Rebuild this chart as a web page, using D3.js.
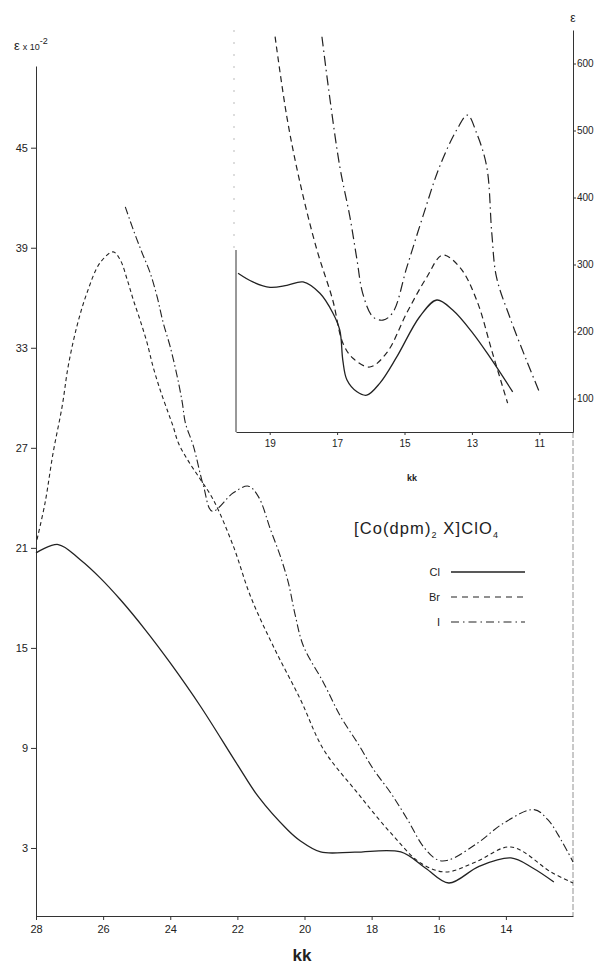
<!DOCTYPE html>
<html>
<head>
<meta charset="utf-8">
<script src="https://cdn.jsdelivr.net/npm/d3@7"></script>
<style>
  body { margin: 0; background: #fff; }
  svg { display: block; font-family: "Liberation Sans", Arial, sans-serif; }
  .axis path, .axis line { stroke: #333; stroke-width: 1; }
  .axis text { fill: #222; font-size: 11px; }
  .inset text { font-size: 10px; }
</style>
</head>
<body>
<svg width="598" height="964"></svg>
<script>
// main chart data (kk, eps x 10^-2)
const clKk  = [28, 27.34, 26.69, 26.09, 25.49, 24.75, 24.0, 23.1, 22.0, 21.37, 20.5, 20.12, 19.52, 18.5, 17.13, 16.4, 15.7, 14.8, 13.85, 13.2, 12.57];
const clEps = [20.7, 21.2, 20.3, 19.2, 17.9, 16.1, 14.1, 11.5, 8.0, 6.06, 4.08, 3.42, 2.76, 2.75, 2.76, 1.8, 0.9, 1.9, 2.4, 1.8, 0.96];

const brKk  = [27.97, 27.73, 27.49, 27.22, 27.04, 26.78, 26.48, 26.09, 25.70, 25.49, 25.28, 25.10, 24.90, 24.69, 24.51, 24.30, 24.06, 23.91, 23.76, 23.49, 23.10, 22.72, 22.12, 21.61, 20.93, 20.12, 19.43, 18.42, 17.43, 16.54, 15.79, 14.9, 13.85, 12.66, 12.0];
const brEps = [21.5, 23.7, 26.7, 29.5, 31.9, 34.3, 36.3, 38.1, 38.75, 38.27, 37.07, 35.87, 34.67, 33.29, 31.85, 30.47, 29.1, 28.26, 27.3, 26.3, 25.1, 23.9, 21.1, 18.1, 15.1, 11.9, 8.9, 6.3, 3.9, 2.1, 1.56, 2.16, 3.06, 1.56, 0.9];

const iKk  = [25.34, 25.10, 24.84, 24.60, 24.39, 24.21, 24.0, 23.79, 23.64, 23.55, 23.31, 23.01, 22.75, 22.12, 21.67, 21.37, 21.01, 20.72, 20.48, 20.27, 20.03, 19.43, 18.93, 18.42, 17.94, 17.43, 16.93, 16.45, 16.03, 15.70, 14.84, 14.06, 13.16, 12.75, 12.36, 12.0];
const iEps = [41.45, 40.07, 38.7, 37.5, 36.05, 34.5, 33.05, 31.25, 29.7, 28.5, 27.1, 24.7, 23.2, 24.3, 24.7, 24.06, 22.08, 20.5, 18.9, 16.9, 15.1, 12.9, 10.9, 9.3, 7.7, 6.3, 4.7, 3.06, 2.28, 2.28, 3.3, 4.5, 5.3, 4.7, 3.5, 2.16];

// inset data (kk, eps)
const clInKk  = [19.94, 19.5, 18.99, 18.49, 18.01, 17.51, 17.13, 16.92, 16.83, 16.71, 16.41, 16.12, 15.73, 15.23, 14.55, 14.04, 13.57, 12.98, 12.47, 11.79];
const clInEps = [287, 274, 266, 269, 274, 257, 228, 202, 157, 128, 110, 105, 123, 162, 222, 247, 232, 198, 162, 110];

const brInKk  = [18.84, 18.49, 18.10, 17.6, 17.13, 16.83, 16.53, 16.03, 15.53, 14.93, 14.34, 13.87, 13.36, 12.86, 12.39, 11.94];
const brInEps = [640, 520, 422, 322, 247, 183, 160, 147, 168, 228, 281, 314, 296, 247, 168, 93];

const iInKk  = [17.45, 17.21, 16.92, 16.62, 16.41, 16.24, 15.94, 15.64, 15.35, 14.93, 14.46, 13.96, 13.45, 13.13, 12.86, 12.56, 12.41, 12.27, 11.88, 11.38, 11.0];
const iInEps = [640, 546, 446, 371, 307, 257, 222, 217, 228, 296, 371, 446, 501, 523, 496, 446, 347, 281, 222, 157, 110];

const mainXTicks = [28, 26, 24, 22, 20, 18, 16, 14];
const mainYTicks = [3, 9, 15, 21, 27, 33, 39, 45];
const insetXTicks = [19, 17, 15, 13, 11];
const insetYTicks = [100, 200, 300, 400, 500, 600];

const legendNames = ["Cl", "Br", "I"];

const svg = d3.select("svg");
const ink = "#222";

const xScale = d3.scaleLinear().domain([28, 12]).range([36, 573]);
const yScale = d3.scaleLinear().domain([-1.08, 49.9]).range([916, 66]);

const xIn = d3.scaleLinear().domain([20, 10]).range([236, 573]);
const yIn = d3.scaleLinear().domain([50, 650]).range([432, 30]);

const dashes = { Cl: null, Br: "4,3", I: "8,3,1.5,3" };
const dashesIn = { Cl: null, Br: "6,4", I: "10,4,1.5,4" };

const zip = (a, b) => a.map((v, i) => [v, b[i]]);

// main axes
svg.append("g")
    .attr("class", "axis")
    .attr("transform", "translate(0,916)")
    .call(d3.axisBottom(xScale).tickValues(mainXTicks).tickSize(4).tickSizeOuter(0).tickPadding(5));

svg.append("g")
    .attr("class", "axis")
    .attr("transform", "translate(36,0)")
    .call(d3.axisLeft(yScale).tickValues(mainYTicks).tickSize(5).tickSizeOuter(0).tickPadding(3));

// right border of main frame
svg.append("line")
    .attr("x1", 573).attr("x2", 573).attr("y1", 432).attr("y2", 916)
    .attr("stroke", "#777").attr("stroke-width", 0.8).attr("stroke-dasharray", "6,2");

// inset axes
const inset = svg.append("g").attr("class", "inset");

inset.append("g")
    .attr("class", "axis")
    .attr("transform", "translate(0,432)")
    .call(d3.axisBottom(xIn).tickValues(insetXTicks).tickSize(3).tickSizeOuter(0).tickPadding(5));

inset.append("g")
    .attr("class", "axis")
    .attr("transform", "translate(573,0)")
    .call(d3.axisRight(yIn).tickValues(insetYTicks).tickSize(3).tickSizeOuter(0).tickPadding(1));

inset.append("line")
    .attr("x1", 236).attr("x2", 236).attr("y1", 250).attr("y2", 432)
    .attr("stroke", "#333").attr("stroke-width", 1);
inset.append("line")
    .attr("x1", 234).attr("x2", 234).attr("y1", 30).attr("y2", 250)
    .attr("stroke", "#aaa").attr("stroke-width", 0.8).attr("stroke-dasharray", "2,10");

svg.selectAll(".axis .domain").attr("stroke", "#333");

// curves
const mainLine = d3.line().x(d => xScale(d[0])).y(d => yScale(d[1])).curve(d3.curveCatmullRom.alpha(0.5));
const inLine = d3.line().x(d => xIn(d[0])).y(d => yIn(d[1])).curve(d3.curveCatmullRom.alpha(0.5));

const mainSeries = [
    { name: "Cl", pts: zip(clKk, clEps) },
    { name: "Br", pts: zip(brKk, brEps) },
    { name: "I", pts: zip(iKk, iEps) }
];
const insetSeries = [
    { name: "Cl", pts: zip(clInKk, clInEps) },
    { name: "Br", pts: zip(brInKk, brInEps) },
    { name: "I", pts: zip(iInKk, iInEps) }
];

svg.append("g").selectAll("path")
    .data(mainSeries)
    .enter()
    .append("path")
    .attr("d", d => mainLine(d.pts))
    .attr("fill", "none")
    .attr("stroke", ink)
    .attr("stroke-width", d => d.name === "Cl" ? 1.3 : 1.1)
    .attr("stroke-dasharray", d => dashes[d.name]);

inset.append("g").selectAll("path")
    .data(insetSeries)
    .enter()
    .append("path")
    .attr("d", d => inLine(d.pts))
    .attr("fill", "none")
    .attr("stroke", ink)
    .attr("stroke-width", d => d.name === "Cl" ? 1.3 : 1.2)
    .attr("stroke-dasharray", d => dashesIn[d.name]);

// axis titles
const yTitle = svg.append("text").attr("x", 14).attr("y", 50).attr("fill", ink).attr("font-size", 13);
yTitle.append("tspan").text("ε");
yTitle.append("tspan").attr("font-size", 9).attr("dx", 3).text("x 10");
yTitle.append("tspan").attr("font-size", 9).attr("dy", -6).text("-2");

svg.append("text").attr("x", 573).attr("y", 22).attr("text-anchor", "middle")
    .attr("fill", ink).attr("font-size", 12).text("ε");

svg.append("text").attr("x", 302).attr("y", 961).attr("text-anchor", "middle")
    .attr("fill", ink).attr("font-size", 17).attr("font-weight", "bold").text("kk");

svg.append("text").attr("x", 412).attr("y", 481).attr("text-anchor", "middle")
    .attr("fill", ink).attr("font-size", 9).attr("font-weight", "bold").text("kk");

// compound label
const title = svg.append("text").attr("x", 354).attr("y", 534).attr("fill", ink)
    .attr("font-size", 16.5).attr("letter-spacing", 1.1);
title.append("tspan").text("[Co(dpm)");
title.append("tspan").attr("font-size", 9).attr("dy", 4).text("2");
title.append("tspan").attr("dy", -4).text(" X]ClO");
title.append("tspan").attr("font-size", 9).attr("dy", 4).text("4");

// legend
const legend = svg.append("g").selectAll("g")
    .data(legendNames)
    .enter()
    .append("g")
    .attr("transform", (d, i) => "translate(0," + (572 + i * 25) + ")");

legend.append("text")
    .attr("x", 440).attr("y", 4)
    .attr("text-anchor", "end")
    .attr("fill", ink).attr("font-size", 11)
    .text(d => d);

legend.append("line")
    .attr("x1", 451).attr("x2", 525)
    .attr("stroke", ink)
    .attr("stroke-width", d => d === "Cl" ? 1.3 : 1.2)
    .attr("stroke-dasharray", d => dashes[d] ? (d === "Br" ? "6,5" : "8,4,1.5,4") : null);
</script>
</body>
</html>
